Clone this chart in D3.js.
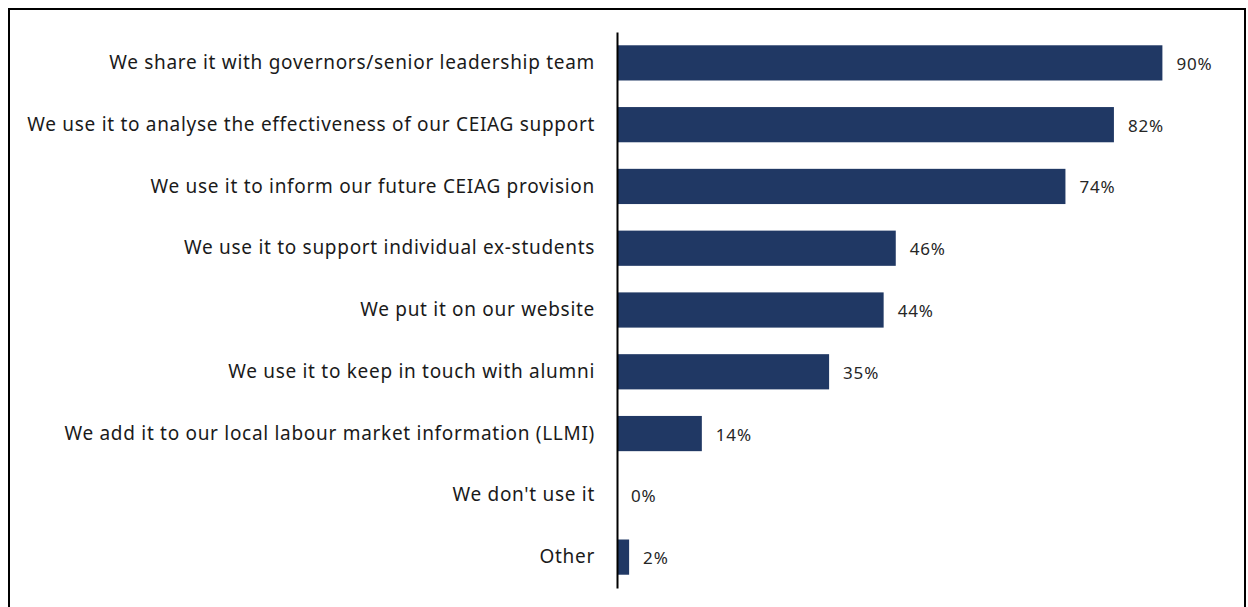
<!DOCTYPE html>
<html>
<head>
<meta charset="utf-8">
<script src="https://cdn.jsdelivr.net/npm/d3@7"></script>
<style>
  body { margin: 0; background: #fff; }
  text { font-family: "Noto Sans", "Open Sans", sans-serif; }
</style>
</head>
<body>
<script>
// categories and values
var categories = [
  "We share it with governors/senior leadership team",
  "We use it to analyse the effectiveness of our CEIAG support",
  "We use it to inform our future CEIAG provision",
  "We use it to support individual ex-students",
  "We put it on our website",
  "We use it to keep in touch with alumni",
  "We add it to our local labour market information (LLMI)",
  "We don't use it",
  "Other"
];
var values = [90, 82, 74, 46, 44, 35, 14, 0, 2];

var svgWidth = 1248, svgHeight = 607;

var svg = d3.select("body").append("svg")
    .attr("width", svgWidth)
    .attr("height", svgHeight);

// outer frame (bottom edge runs off the picture)
svg.append("path")
    .attr("d", "M9,620 V9 H1245 V620")
    .attr("fill", "none")
    .attr("stroke", "#000")
    .attr("stroke-width", 2);

var x = d3.scaleLinear().domain([0, 100]).range([617, 1223]);
var y = d3.scaleBand().domain(categories).range([32, 588])
    .paddingInner(0.43).paddingOuter(0.215);

// bars
svg.selectAll(".bar")
    .data(values)
  .enter().append("rect")
    .attr("class", "bar")
    .attr("x", x(0))
    .attr("y", function(d, i) { return y(categories[i]); })
    .attr("width", function(d) { return x(d) - x(0); })
    .attr("height", y.bandwidth())
    .attr("fill", "#203864");

// value labels
svg.selectAll(".val")
    .data(values)
  .enter().append("text")
    .attr("class", "val")
    .attr("x", function(d) { return x(d) + 14; })
    .attr("y", function(d, i) { return y(categories[i]) + y.bandwidth() / 2 + 1; })
    .attr("dy", "0.35em")
    .attr("font-size", "17px")
    .attr("letter-spacing", "0.8px")
    .attr("fill", "#262626")
    .text(function(d) { return d + "%"; });

// category axis
var yAxis = d3.axisLeft(y).tickSize(0).tickPadding(22);
var gy = svg.append("g")
    .attr("transform", "translate(" + x(0) + ",0)")
    .call(yAxis);
gy.select(".domain").attr("stroke", "#000").attr("stroke-width", 2);
gy.selectAll("text")
    .attr("font-size", "19px")
    .attr("letter-spacing", "0.7px")
    .attr("fill", "#1a1a1a")
    .style("font-family", "'Noto Sans', sans-serif");
</script>
</body>
</html>
